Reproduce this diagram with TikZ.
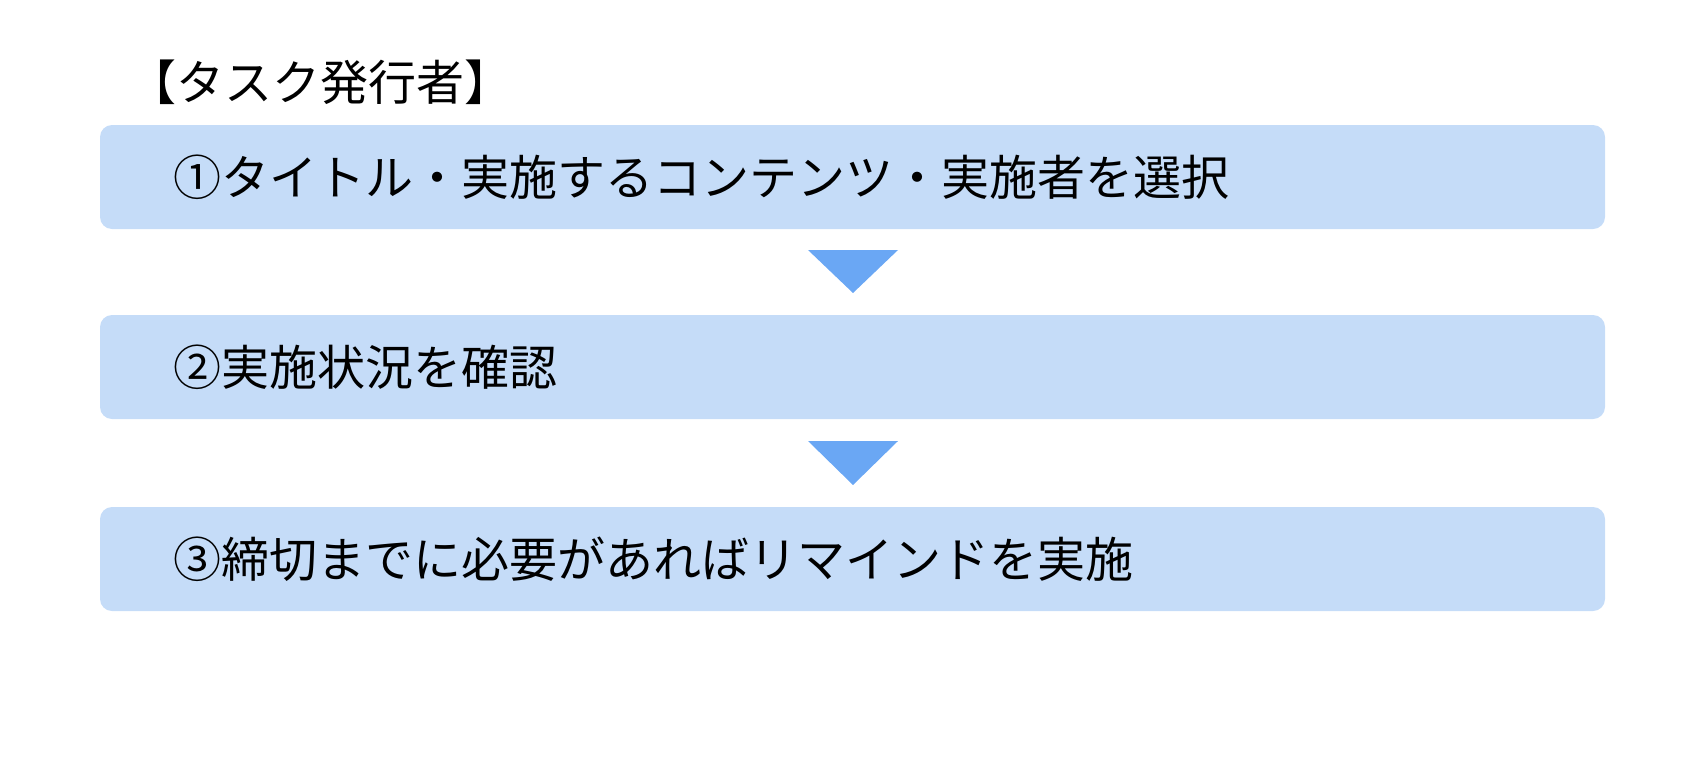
\documentclass[tikz,border=0pt]{standalone}
\usepackage{fontspec}
\newfontfamily\cjk{Noto Sans CJK JP}
\definecolor{boxc}{HTML}{C5DCF8}
\definecolor{arr}{HTML}{6AA7F4}
\begin{document}
\begin{tikzpicture}[x=1pt,y=-1pt,
  stepbox/.style={fill=boxc,rounded corners=12pt},
  txt/.style={font=\cjk\fontsize{48}{52}\selectfont,anchor=west,inner sep=0pt}]
\useasboundingbox (0,0) rectangle (1708,758);
\node[txt] (title) at (128,82) {【タスク発行者】};
\fill[stepbox] (100,125) rectangle (1605,229);
\fill[stepbox] (100,315) rectangle (1605,419);
\fill[stepbox] (100,507) rectangle (1605,611);
\node[txt] (t1) at (173,177) {①タイトル・実施するコンテンツ・実施者を選択};
\node[txt] (t2) at (173,367) {②実施状況を確認};
\node[txt] (t3) at (173,559) {③締切までに必要があればリマインドを実施};
\fill[arr] (808,250) -- (898,250) -- (853,293) -- cycle;
\fill[arr] (808,441) -- (898,441) -- (853,485) -- cycle;
\end{tikzpicture}
\end{document}
